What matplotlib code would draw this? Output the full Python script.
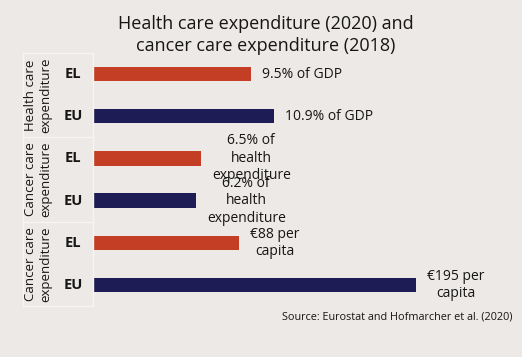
import matplotlib
matplotlib.use("Agg")
import matplotlib.pyplot as plt
import matplotlib.transforms as mtransforms

plt.rcParams["font.family"] = ["Open Sans", "DejaVu Sans"]

# ---- data ----
groups = ["Health care\nexpenditure", "Cancer care\nexpenditure", "Cancer care\nexpenditure"]
countries = ["EL", "EU"]
health_values = [9.5, 10.9]          # % of GDP
cancer_share_values = [6.5, 6.2]     # % of health expenditure
cancer_percap_values = [88, 195]     # EUR per capita
group_scale = [1.0, 1.0, 0.1]        # per-capita values drawn at 1/10 scale
value_labels = ["9.5% of GDP", "10.9% of GDP",
                "6.5% of\nhealth\nexpenditure", "6.2% of\nhealth\nexpenditure",
                "€88 per\ncapita", "€195 per\ncapita"]
title = "Health care expenditure (2020) and\ncancer care expenditure (2018)"
source = "Source: Eurostat and Hofmarcher et al. (2020)"

bg = "#ECE9E6"
red = "#C33E24"
navy = "#1E1C54"
line_c = "#F7F5F2"
txt = "#161616"

W, H = 522, 357
fig = plt.figure(figsize=(W / 100, H / 100), dpi=100, facecolor=bg)

ax_left, ax_right = 93, 491
ax_top, ax_bot = 53, 306
ax = fig.add_axes([ax_left / W, 1 - ax_bot / H, (ax_right - ax_left) / W, (ax_bot - ax_top) / H])
ax.set_facecolor(bg)

series = [health_values, cancer_share_values, cancer_percap_values]
vals, colors, labels_y = [], [], []
for g, s in enumerate(series):
    for i, v in enumerate(s):
        vals.append(v * group_scale[g])
        colors.append(red if i == 0 else navy)
        labels_y.append(countries[i])

ypos = list(range(len(vals)))
ax.barh(ypos, vals, height=0.34, color=colors)
ax.set_xlim(0, 24)
ax.set_ylim(5.5, -0.5)

for y, v, lab in zip(ypos, vals, value_labels):
    ax.annotate(lab, (v, y), xytext=(11, 0), textcoords="offset pixels",
                ha="left", va="center", multialignment="center",
                fontsize=10, color=txt, linespacing=1.22)

ax.set_xticks([])
ax.set_yticks([])
for s in ["top", "right", "bottom"]:
    ax.spines[s].set_visible(False)
ax.spines["left"].set_color(line_c)
ax.spines["left"].set_linewidth(1)

trans = mtransforms.blended_transform_factory(ax.transAxes, ax.transData)
xl = (23 - ax_left) / (ax_right - ax_left)
for y in [-0.5, 1.5, 3.5, 5.5]:
    ax.plot([xl, 0], [y, y], transform=trans, color=line_c, lw=1, clip_on=False)
ax.plot([xl, xl], [-0.5, 5.5], transform=trans, color=line_c, lw=1, clip_on=False)

xc = (73 - ax_left) / (ax_right - ax_left)
for y, lab in zip(ypos, labels_y):
    ax.text(xc, y, lab, transform=trans, ha="center", va="center",
            fontsize=10.5, fontweight="bold", color=txt)

xg = (38 - ax_left) / (ax_right - ax_left)
for g, lab in enumerate(groups):
    ax.text(xg, 2 * g + 0.5, lab, transform=trans, ha="center", va="center",
            rotation=90, fontsize=9.5, color=txt, linespacing=1.2,
            multialignment="center")

fig.text(266 / W, 1 - 35 / H, title, ha="center", va="center", fontsize=13,
         color=txt, linespacing=1.35)
fig.text(512 / W, 1 - 317 / H, source, ha="right", va="center", fontsize=7.8,
         color=txt)

fig.savefig("out.png", dpi=100, facecolor=bg)
